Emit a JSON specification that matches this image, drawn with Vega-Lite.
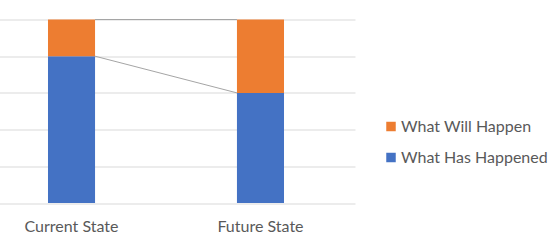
{
  "$schema": "https://vega.github.io/schema/vega-lite/v6.json",
  "width": 355,
  "height": 183.5,
  "autosize": {"type": "none"},
  "padding": {"left": 0, "top": 19.5, "right": 203, "bottom": 38},
  "background": "white",
  "config": {
    "view": {"stroke": null},
    "font": "Lato",
    "axisX": {"title": null, "domain": false, "ticks": false, "labelAngle": 0, "labelPadding": 15, "labelFontSize": 16, "labelColor": "#595959", "grid": false},
    "axisY": {"title": null, "domain": false, "ticks": false, "labels": false, "grid": true, "gridColor": "#d9d9d9", "gridWidth": 1}
  },
  "datasets": {
    "bars": [
      {"state": "Current State", "series": "What Has Happened", "value": 80},
      {"state": "Current State", "series": "What Will Happen", "value": 20},
      {"state": "Future State", "series": "What Has Happened", "value": 60},
      {"state": "Future State", "series": "What Will Happen", "value": 40}
    ],
    "links": [
      {"from": "Current State", "to": "Future State", "fromValue": 80, "toValue": 60},
      {"from": "Current State", "to": "Future State", "fromValue": 100, "toValue": 100}
    ]
  },
  "layer": [
    {
      "data": {"name": "bars"},
      "mark": {"type": "bar"},
      "encoding": {
        "x": {
          "field": "state",
          "type": "nominal",
          "scale": {"domain": ["Current State", "Future State"], "range": [-23, 355], "paddingInner": 0.751, "paddingOuter": 0.3757},
          "axis": {"title": null}
        },
        "y": {
          "field": "value",
          "type": "quantitative",
          "stack": "zero",
          "scale": {"domain": [0, 100]},
          "axis": {"title": null, "values": [0, 20, 40, 60, 80, 100]}
        },
        "color": {
          "field": "series",
          "type": "nominal",
          "scale": {"domain": ["What Will Happen", "What Has Happened"], "range": ["#ED7D31", "#4472C4"]},
          "legend": {"title": null, "orient": "none", "legendX": 383, "legendY": 99, "symbolType": "square", "symbolSize": 90, "symbolStrokeWidth": 0, "labelFontSize": 16, "labelColor": "#595959", "rowPadding": 15, "labelOffset": 2, "padding": 0}
        },
        "order": {"field": "series", "sort": "ascending"}
      }
    },
    {
      "data": {"name": "links"},
      "mark": {"type": "rule", "xOffset": 23.5, "x2Offset": -23.5, "color": "#a5a5a5", "strokeWidth": 1},
      "encoding": {
        "x": {"field": "from", "type": "nominal", "axis": {"title": null}},
        "x2": {"field": "to"},
        "y": {"field": "fromValue", "type": "quantitative", "axis": {"title": null, "values": [0, 20, 40, 60, 80, 100]}},
        "y2": {"field": "toValue"}
      }
    }
  ]
}
